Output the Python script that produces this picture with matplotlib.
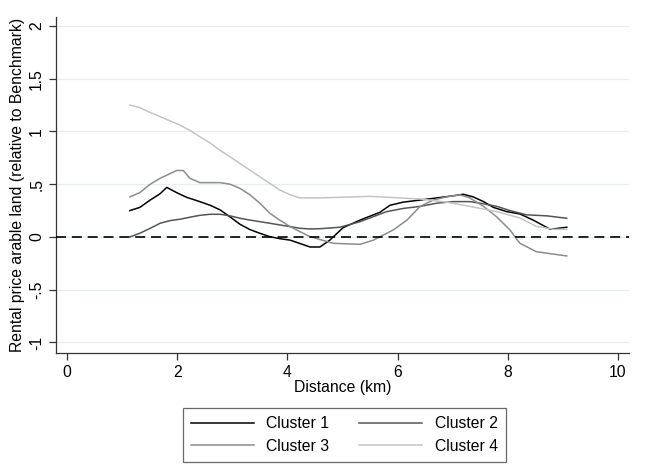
import matplotlib
matplotlib.use("Agg")
import matplotlib.pyplot as plt

plt.rcParams['font.family'] = ['Liberation Sans', 'DejaVu Sans']

# Cluster 1 (black)
c1_x = [1.14, 1.32, 1.51, 1.69, 1.81, 1.99, 2.17, 2.41, 2.60, 2.78, 2.96, 3.14, 3.32, 3.50,
        3.68, 3.86, 4.05, 4.41, 4.59, 4.77, 5.01, 5.32, 5.68, 5.86, 6.10, 6.41, 6.71, 7.01,
        7.19, 7.37, 7.56, 7.74, 7.98, 8.22, 8.46, 8.77, 9.07]
c1_y = [0.25, 0.28, 0.35, 0.41, 0.47, 0.42, 0.376, 0.335, 0.30, 0.256, 0.19, 0.12, 0.07, 0.035,
        0.003, -0.016, -0.03, -0.095, -0.095, -0.03, 0.088, 0.16, 0.234, 0.30, 0.33, 0.35, 0.37, 0.39,
        0.405, 0.38, 0.335, 0.28, 0.24, 0.218, 0.16, 0.073, 0.092]

# Cluster 2 (dark grey)
c2_x = [1.14, 1.32, 1.51, 1.69, 1.87, 2.05, 2.23, 2.41, 2.60, 2.78, 2.96, 3.14, 3.32, 3.50,
        3.68, 3.86, 4.05, 4.23, 4.41, 4.59, 4.95, 5.32, 5.80, 6.10, 6.41, 6.71, 7.01, 7.31,
        7.50, 7.80, 8.04, 8.34, 8.71, 9.07]
c2_y = [0.0, 0.035, 0.082, 0.13, 0.155, 0.168, 0.187, 0.205, 0.215, 0.215, 0.20, 0.177, 0.16, 0.145,
        0.13, 0.114, 0.098, 0.082, 0.076, 0.078, 0.092, 0.145, 0.24, 0.27, 0.29, 0.32, 0.335, 0.335,
        0.32, 0.29, 0.25, 0.21, 0.20, 0.177]

# Cluster 3 (medium grey)
c3_x = [1.14, 1.32, 1.51, 1.69, 1.87, 1.99, 2.11, 2.23, 2.41, 2.60, 2.78, 2.96, 3.14, 3.32,
        3.50, 3.68, 3.86, 4.05, 4.23, 4.41, 4.83, 5.32, 5.56, 5.92, 6.17, 6.41, 6.65, 6.89,
        7.13, 7.31, 7.56, 7.80, 8.04, 8.16, 8.22, 8.52, 9.07]
c3_y = [0.38, 0.42, 0.50, 0.556, 0.60, 0.63, 0.63, 0.556, 0.515, 0.515, 0.515, 0.50, 0.46, 0.40,
        0.32, 0.225, 0.16, 0.098, 0.05, 0.003, -0.06, -0.07, -0.03, 0.066, 0.16, 0.29, 0.35, 0.38,
        0.40, 0.37, 0.29, 0.19, 0.066, -0.02, -0.06, -0.14, -0.18]

# Cluster 4 (light grey)
c4_x = [1.14, 1.32, 1.51, 1.69, 1.87, 2.05, 2.23, 2.41, 2.60, 2.78, 3.00, 3.20, 3.60, 3.86, 4.05,
        4.23, 4.59, 5.50, 6.41, 6.89, 7.31, 7.80, 8.22, 8.52, 8.83, 9.07]
c4_y = [1.25, 1.226, 1.18, 1.14, 1.10, 1.06, 1.01, 0.95, 0.89, 0.82, 0.745, 0.675, 0.535, 0.445, 0.40,
        0.37, 0.37, 0.385, 0.36, 0.33, 0.29, 0.24, 0.18, 0.10, 0.073, 0.073]

labels = ["Cluster 1", "Cluster 2", "Cluster 3", "Cluster 4"]
colors = ["#000000", "#555555", "#8c8c8c", "#c4c4c4"]

xticks = [0, 2, 4, 6, 8, 10]
yticks = [-1, -0.5, 0, 0.5, 1, 1.5, 2]
ytick_labels = ["-1", "-.5", "0", ".5", "1", "1.5", "2"]

FS = 11.3

fig = plt.figure(figsize=(6.46, 4.68), dpi=100)
ax = fig.add_axes([0.0867, 0.2457, 0.887, 0.718])

for yv in yticks:
    ax.axhline(yv, color="#e6eef0", lw=0.9, zorder=0)

series = [(c1_x, c1_y), (c2_x, c2_y), (c3_x, c3_y), (c4_x, c4_y)]
handles = []
for (xs, ys), lab, col in zip(series, labels, colors):
    h, = ax.plot(xs, ys, color=col, lw=1.1, label=lab, zorder=3)
    handles.append(h)

ax.axhline(0, color="black", lw=1.2, dashes=(6, 3.5), zorder=4)

ax.set_xlim(-0.2, 10.2)
ax.set_ylim(-1.1, 2.085)
ax.set_xticks(xticks)
ax.set_yticks(yticks)
ax.set_yticklabels(ytick_labels, rotation=90, va="center")
ax.tick_params(axis="both", direction="out", length=5, width=0.9, colors="#333333",
               labelcolor="black", labelsize=FS)
for s in ["top", "right"]:
    ax.spines[s].set_visible(False)
for s in ["left", "bottom"]:
    ax.spines[s].set_color("#333333")
    ax.spines[s].set_linewidth(0.9)

ax.set_xlabel("Distance (km)", fontsize=FS, labelpad=0)
ax.set_ylabel("Rental price arable land (relative to Benchmark)", fontsize=FS, labelpad=3)

# row-wise order: matplotlib fills columns first
order = [0, 2, 1, 3]
leg = fig.legend(handles=[handles[i] for i in order],
                 labels=[labels[i] for i in order], ncol=2, loc="center",
                 bbox_to_anchor=(0.533, 0.0705),
                 fontsize=FS, handlelength=4.0, handletextpad=0.8, columnspacing=1.9,
                 frameon=True, fancybox=False, borderpad=0.5, labelspacing=0.5,
                 borderaxespad=0)
leg.get_frame().set_edgecolor("#444444")
leg.get_frame().set_linewidth(0.9)

fig.savefig("out.png", dpi=100)
